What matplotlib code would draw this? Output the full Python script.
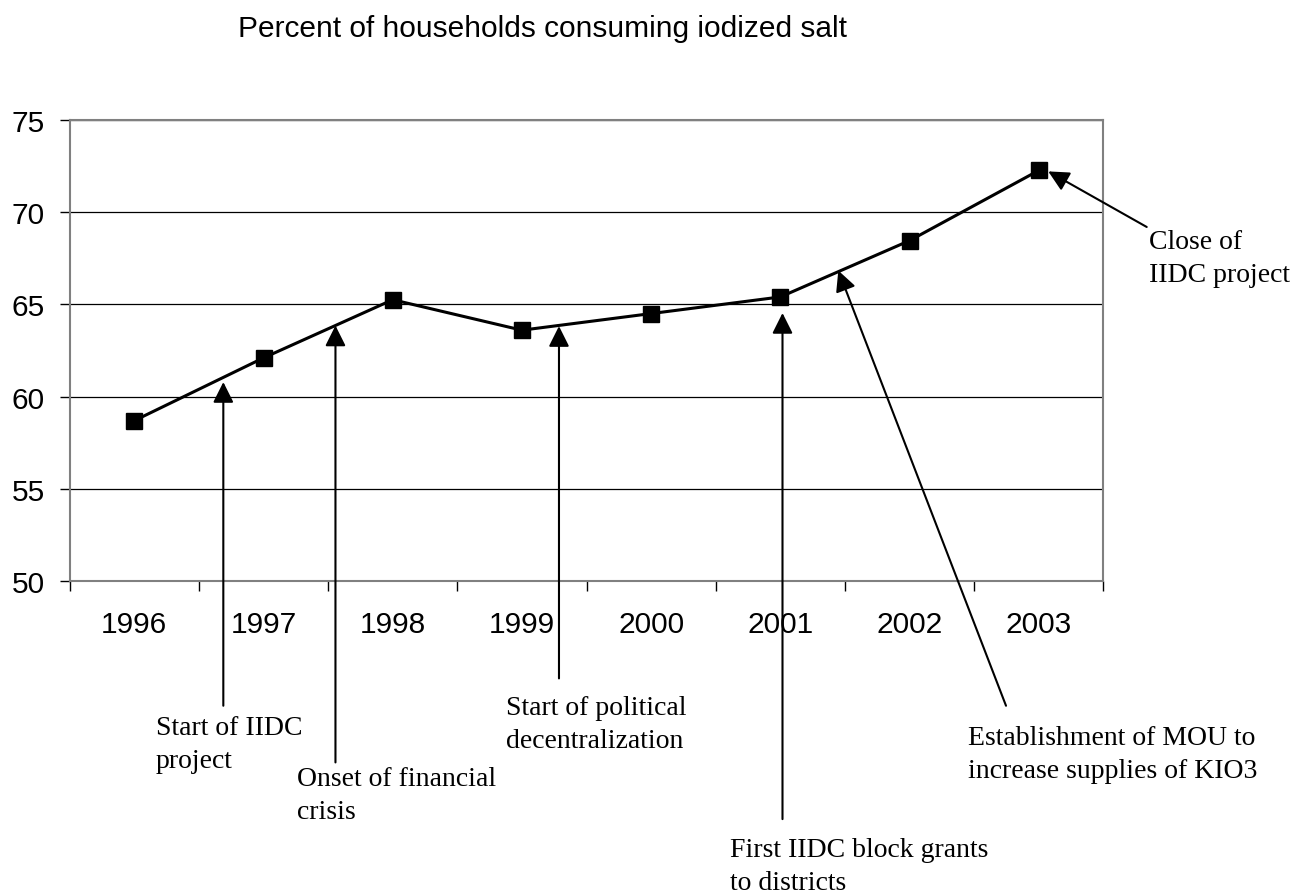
import matplotlib
matplotlib.use("Agg")
import matplotlib.pyplot as plt
import numpy as np

# ---- data ----
years = ["1996", "1997", "1998", "1999", "2000", "2001", "2002", "2003"]
pct_iodized = [58.7, 62.1, 65.25, 63.6, 64.5, 65.4, 68.45, 72.25]
y_ticks = [50, 55, 60, 65, 70, 75]
title = "Percent of households consuming iodized salt"

# annotation events: label, arrow tip (x idx, y), arrow tail (x idx, y)
event_labels = [
    "Start of IIDC\nproject",
    "Onset of financial\ncrisis",
    "Start of political\ndecentralization",
    "First IIDC block grants\nto districts",
    "Establishment of MOU to\nincrease supplies of KIO3",
    "Close of\nIIDC project",
]
arrow_tips = [(0.689, 60.79), (1.557, 63.85), (3.287, 63.82),
              (5.017, 64.53), (5.449, 66.83), (7.074, 72.2)]
arrow_tails = [(0.689, 43.26), (1.557, 40.19), (3.287, 44.74),
               (5.017, 37.12), (6.747, 43.26), (7.836, 69.19)]
# text positions in figure pixels (left, first-line baseline from top)
text_pos_px = [(156, 735), (296.7, 785.7), (506, 715),
               (730.5, 856.7), (968.3, 745), (1149.3, 249.3)]
LINE_PX = 33  # distance between baselines in pixels

W, H = 1299, 895
fig = plt.figure(figsize=(W / 100, H / 100), dpi=100)
ax = fig.add_axes([69.7 / W, 1 - 582.3 / H, (1103.3 - 69.7) / W, (582.3 - 120.7) / H])

x = np.arange(len(years))
ax.plot(x, pct_iodized, color="black", lw=2.2, marker="s", ms=11,
        markerfacecolor="black", markeredgecolor="black", zorder=5)

ax.set_xlim(-0.5, len(years) - 0.5)
ax.set_ylim(50, 75)
ax.set_yticks(y_ticks)
ax.yaxis.grid(True, color="black", lw=0.9)
ax.set_axisbelow(True)

ax.set_xticks(x)
ax.set_xticklabels(years)
ax.set_xticks(np.arange(-0.5, len(years)), minor=True)
ax.tick_params(axis="x", which="major", length=0, pad=21)
ax.tick_params(axis="x", which="minor", length=7.2, width=1, direction="out", color="black")
ax.tick_params(axis="y", which="major", length=7.2, width=1, direction="out", pad=10.5, color="black")
for lab in ax.get_xticklabels() + ax.get_yticklabels():
    lab.set_fontfamily("Liberation Sans")
    lab.set_fontsize(21.5)
for s in ax.spines.values():
    s.set_color("#808080")
    s.set_linewidth(1.5)

fig.text(238 / W, 1 - 36.7 / H, title, family="Liberation Sans", fontsize=21.5,
         ha="left", va="baseline")

for lab, tip, tail, (px, py) in zip(event_labels, arrow_tips, arrow_tails, text_pos_px):
    ax.annotate("", xy=tip, xytext=tail, xycoords="data", textcoords="data",
                annotation_clip=False,
                arrowprops=dict(arrowstyle="-|>,head_length=0.5,head_width=0.25",
                                mutation_scale=25, color="black", lw=1.5,
                                shrinkA=0, shrinkB=0))
    lines = lab.split("\n")
    for i, line in enumerate(lines):
        fig.text(px / W, 1 - (py + i * LINE_PX) / H, line, family="Liberation Serif",
                 fontsize=20, ha="left", va="baseline")

fig.savefig("out.png", dpi=100)
